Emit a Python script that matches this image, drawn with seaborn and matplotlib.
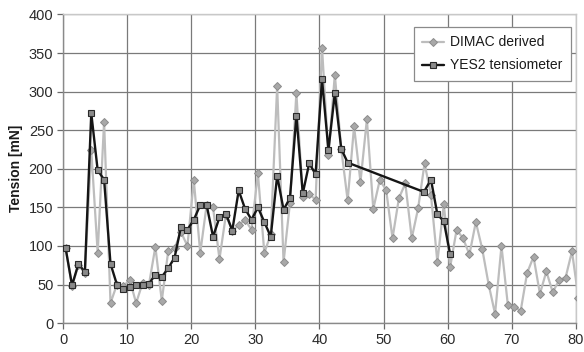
import matplotlib
matplotlib.use("Agg")
import matplotlib.pyplot as plt
import seaborn as sns
import pandas as pd

# Sample times (s) for the DIMAC-derived tension estimate
dimac_time = [
    0.4, 1.4, 2.4, 3.4, 4.4, 5.4, 6.4, 7.4, 8.4, 9.4,
    10.4, 11.4, 12.4, 13.4, 14.4, 15.4, 16.4, 17.4, 18.4, 19.4,
    20.4, 21.4, 22.4, 23.4, 24.4, 25.4, 26.4, 27.4, 28.4, 29.4,
    30.4, 31.4, 32.4, 33.4, 34.4, 35.4, 36.4, 37.4, 38.4, 39.4,
    40.4, 41.4, 42.4, 43.4, 44.4, 45.4, 46.4, 47.4, 48.4, 49.4,
    50.4, 51.4, 52.4, 53.4, 54.4, 55.4, 56.4, 57.4, 58.4, 59.4,
    60.4, 61.4, 62.4, 63.4, 64.4, 65.4, 66.4, 67.4, 68.4, 69.4,
    70.4, 71.4, 72.4, 73.4, 74.4, 75.4, 76.4, 77.4, 78.4, 79.4,
    80.4,
]
dimac_tension = [
    97, 48, 75, 65, 224, 91, 261, 26, 50, 48,
    56, 26, 52, 50, 99, 29, 93, 97, 118, 100,
    185, 91, 153, 150, 83, 140, 120, 127, 134, 121,
    194, 91, 115, 307, 79, 156, 298, 164, 167, 160,
    357, 218, 322, 226, 159, 255, 183, 264, 148, 185,
    173, 110, 162, 181, 110, 149, 207, 166, 79, 154,
    73, 121, 110, 89, 131, 96, 50, 12, 100, 23,
    21, 16, 65, 86, 38, 67, 40, 56, 59, 93,
    33,
]

# YES2 tensiometer readings (no readings between 44 s and 56 s)
yes2_time = [
    0.4, 1.4, 2.4, 3.4, 4.4, 5.4, 6.4, 7.4, 8.4, 9.4,
    10.4, 11.4, 12.4, 13.4, 14.4, 15.4, 16.4, 17.4, 18.4, 19.4,
    20.4, 21.4, 22.4, 23.4, 24.4, 25.4, 26.4, 27.4, 28.4, 29.4,
    30.4, 31.4, 32.4, 33.4, 34.4, 35.4, 36.4, 37.4, 38.4, 39.4,
    40.4, 41.4, 42.4, 43.4, 44.4,
    56.3, 57.4, 58.4, 59.4, 60.4,
]
yes2_tension = [
    97, 49, 77, 66, 272, 198, 186, 77, 50, 44,
    47, 50, 50, 51, 63, 60, 71, 85, 125, 121,
    134, 153, 153, 112, 137, 142, 120, 172, 148, 134,
    150, 131, 112, 191, 147, 162, 269, 168, 207, 193,
    316, 224, 298, 226, 208,
    170, 186, 141, 132, 89,
]

x_ticks = [0, 10, 20, 30, 40, 50, 60, 70, 80]
y_ticks = [0, 50, 100, 150, 200, 250, 300, 350, 400]

dimac = pd.DataFrame({"time": dimac_time, "tension": dimac_tension})
yes2 = pd.DataFrame({"time": yes2_time, "tension": yes2_tension})

sns.set_theme(style="white")
plt.rcParams["font.family"] = ["Liberation Sans", "DejaVu Sans"]

fig = plt.figure(figsize=(5.84, 3.52), dpi=100)
ax = fig.add_axes([0.108, 0.082, 0.878, 0.877])

sns.lineplot(
    data=dimac, x="time", y="tension", ax=ax, sort=False, estimator=None,
    color="#bdbdbd", linewidth=1.6, marker="D", markersize=3.6,
    markerfacecolor="#a8a8a8", markeredgecolor="#8c8c8c", markeredgewidth=0.7,
    label="DIMAC derived", zorder=3,
)
sns.lineplot(
    data=yes2, x="time", y="tension", ax=ax, sort=False, estimator=None,
    color="#151515", linewidth=1.7, marker="s", markersize=4.0,
    markerfacecolor="#8a8a8a", markeredgecolor="#2a2a2a", markeredgewidth=0.8,
    label="YES2 tensiometer", zorder=4,
)

ax.set_xlim(0, 80)
ax.set_ylim(0, 400)
ax.set_xticks(x_ticks)
ax.set_yticks(y_ticks)
ax.grid(True, color="#7a7a7a", linewidth=0.9)
ax.set_axisbelow(True)

for side in ("top", "right"):
    ax.spines[side].set_color("#c8c8c8")
    ax.spines[side].set_linewidth(1.0)
for side in ("left", "bottom"):
    ax.spines[side].set_color("#8a8a8a")
    ax.spines[side].set_linewidth(1.0)

ax.tick_params(axis="both", which="major", direction="out", length=4,
               width=0.9, color="#6a6a6a", labelsize=10.5, labelcolor="#2a2a2a",
               pad=3, left=True, bottom=True)

ax.set_xlabel("")
ax.set_ylabel("Tension [mN]", fontsize=10, fontweight="bold", color="#1a1a1a",
              labelpad=4)

leg = ax.legend(loc="upper right", bbox_to_anchor=(0.99, 0.959), frameon=True,
                fancybox=False, fontsize=10, handlelength=1.6, handletextpad=0.4,
                borderpad=0.6, labelspacing=0.65, borderaxespad=0.0)
leg.get_frame().set_edgecolor("#8a8a8a")
leg.get_frame().set_linewidth(0.9)
leg.get_frame().set_facecolor("white")
leg.get_frame().set_alpha(1.0)
for t in leg.get_texts():
    t.set_color("#1a1a1a")

fig.savefig("out.png", dpi=100)
